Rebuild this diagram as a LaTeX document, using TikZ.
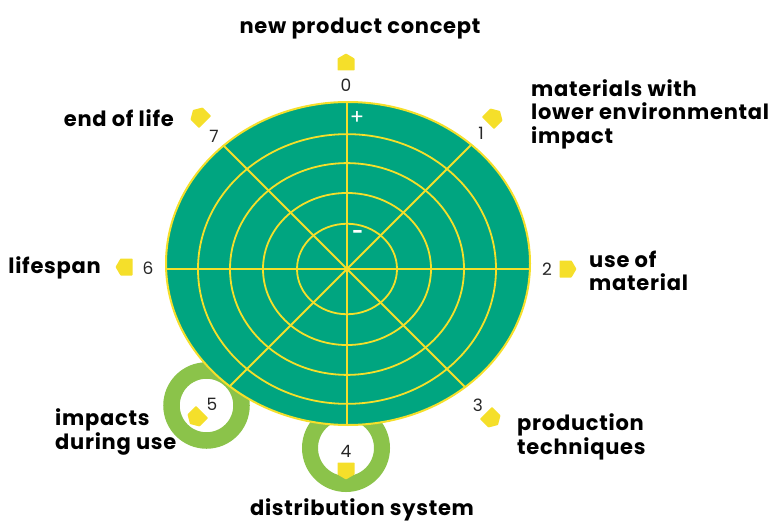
\documentclass[tikz,border=0pt]{standalone}
\usepackage{fontspec}
\setmainfont{Poppins}
\newfontfamily\lblfont[LetterSpace=3.5]{Poppins}
\newfontfamily\numfont{Poppins}
\definecolor{wheel}{HTML}{00A580}
\definecolor{ringg}{HTML}{8BC34A}
\definecolor{ylw}{HTML}{F5DF2A}
\tikzset{
  gridline/.style={draw=ylw, line width=1.8pt},
  lbl/.style={font=\lblfont\fontsize{21}{23.5}\selectfont\bfseries, align=left, inner sep=0pt, text=black},
  num/.style={font=\numfont\fontsize{17}{17}\selectfont, text=black!85, inner sep=0pt},
  homemark/.pic={\fill[ylw, rounded corners=0.6pt] (-8.5pt,-8.5pt) -- (8.5pt,-8.5pt) -- (8.5pt,3.5pt) -- (0pt,8.5pt) -- (-8.5pt,3.5pt) -- cycle;}
}
\begin{document}
\begin{tikzpicture}[x=1pt,y=-1pt]
\useasboundingbox (0,0) rectangle (768,524);
% green rings behind the wheel
\draw[ringg, line width=16.5pt] (206.5,405.5) circle[radius=35pt];
\draw[ringg, line width=16pt] (346,448) circle[radius=36pt];
% wheel
\fill[wheel] (348,263.5) ellipse[x radius=182pt, y radius=161.5pt];
\begin{scope}
  \clip (348,263.5) ellipse[x radius=182pt, y radius=161.5pt];
  \foreach \a in {0,45,...,315} \draw[gridline] (347,269) -- ++(\a:300pt);
\end{scope}
\foreach \r in {50,84,117,149} \draw[gridline] (347,269) ellipse[x radius=\r pt, y radius=0.905*\r pt];
\draw[ylw, line width=2pt] (348,263.5) ellipse[x radius=182pt, y radius=161.5pt];
\node[text=white, font=\fontsize{21}{21}\selectfont, inner sep=0pt] (plus) at (357,118) {+};
\node[text=white, font=\fontsize{19}{19}\selectfont\bfseries, inner sep=0pt] (minus) at (358,234) {-};
% markers
\pic at (346,62) {homemark};
\pic[rotate=-45] at (494,117) {homemark};
\pic[rotate=-90] at (568,269) {homemark};
\pic[rotate=-135] at (492,419) {homemark};
\pic[rotate=180] at (346,471) {homemark};
\pic[rotate=135] at (196,418) {homemark};
\pic[rotate=90] at (124,267) {homemark};
\pic[rotate=45] at (199,116) {homemark};
% numbers
\node[num] (n0) at (346,85) {0};
\node[num] (n1) at (481,133) {1};
\node[num] (n2) at (547,269) {2};
\node[num] (n3) at (478,405) {3};
\node[num] (n4) at (346,451) {4};
\node[num] (n5) at (212,404) {5};
\node[num] (n6) at (148,268) {6};
\node[num] (n7) at (214,136) {7};
% labels
\node[lbl] (l0) at (360,29) {new product concept};
\node[lbl, anchor=west] (l1) at (531,114) {materials with\\lower environmental\\impact};
\node[lbl, anchor=west] (l2) at (589,271) {use of\\material};
\node[lbl, anchor=west] (l3) at (517,437) {production\\techniques};
\node[lbl] (l4) at (362,510) {distribution system};
\node[lbl, anchor=west] (l5) at (55,432) {impacts\\during use};
\node[lbl, anchor=east] (l6) at (101,268) {lifespan};
\node[lbl, anchor=east] (l7) at (174,118) {end of life};
\end{tikzpicture}
\end{document}
